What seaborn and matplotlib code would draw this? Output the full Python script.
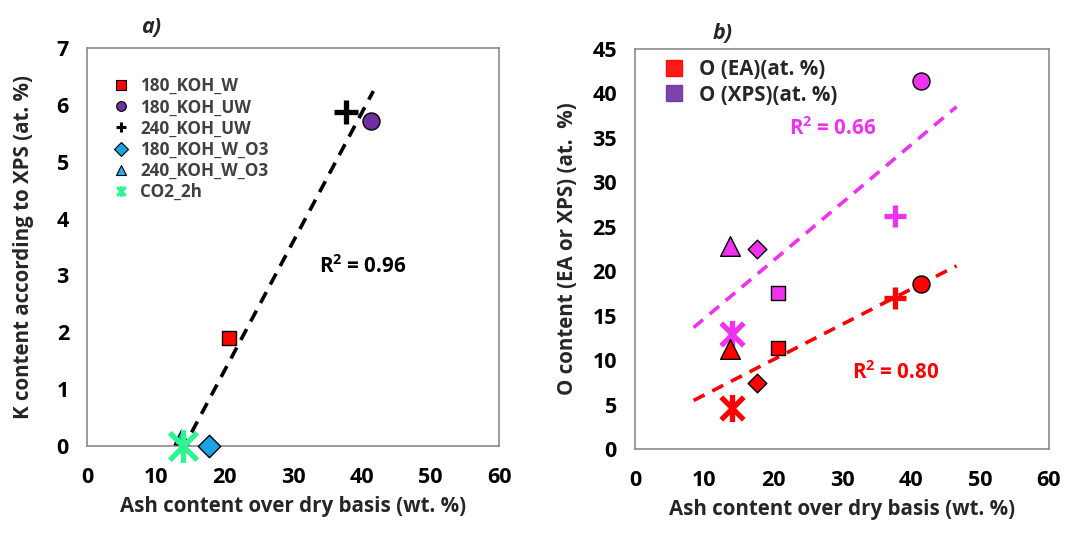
import numpy as np
import matplotlib
matplotlib.use("Agg")
import matplotlib.pyplot as plt
from matplotlib.path import Path
from matplotlib.lines import Line2D
import seaborn as sns

# ---------------- data ----------------
samples = ["180_KOH_W", "180_KOH_UW", "240_KOH_UW", "180_KOH_W_O3", "240_KOH_W_O3", "CO2_2h"]
ash = [20.7, 41.4, 37.7, 17.7, 13.7, 14.0]
k_xps = [1.9, 5.72, 5.87, 0.0, 0.15, 0.0]
o_ea = [11.4, 18.6, 17.0, 7.4, 11.2, 4.6]
o_xps = [17.6, 41.4, 26.2, 22.5, 22.8, 12.9]
r2_labels = ["R$^\\mathbf{2}$ = 0.96", "R$^\\mathbf{2}$ = 0.80", "R$^\\mathbf{2}$ = 0.66"]
fit_range_a = [13.8, 41.7]
fit_range_b = [8.5, 46.6]
x_ticks = [0, 10, 20, 30, 40, 50, 60]
ya_ticks = [0, 1, 2, 3, 4, 5, 6, 7]
yb_ticks = [0, 5, 10, 15, 20, 25, 30, 35, 40, 45]

# ---------------- style ----------------
sns.set_theme(style="white")
plt.rcParams['font.family'] = ['Open Sans', 'DejaVu Sans']
plt.rcParams['font.weight'] = 'bold'
plt.rcParams['mathtext.fontset'] = 'custom'
plt.rcParams['mathtext.rm'] = 'Open Sans:bold'
plt.rcParams['mathtext.bf'] = 'Open Sans:bold'
plt.rcParams['mathtext.default'] = 'bf'

asterisk = Path([(-1, -1), (1, 1), (-1, 1), (1, -1), (0, -1.2), (0, 1.2)],
                [Path.MOVETO, Path.LINETO, Path.MOVETO, Path.LINETO, Path.MOVETO, Path.LINETO])

markers = ["s", "o", "+", "D", "^", asterisk]
colors_a = ["#FF0000", "#7030A0", "#000000", "#1BA3E3", "#1BB0EE", "#2EF58F"]
sizes_a = [110, 150, 300, 130, 110, 560]
col_ea = "#FF0000"
col_xps = "#F032F0"
sizes_b = [110, 150, 260, 90, 200, 380]

fig = plt.figure(figsize=(10.86, 5.43), dpi=100)
axA = fig.add_axes([0.0801, 0.1786, 0.3794, 0.733])
axB = fig.add_axes([0.5847, 0.1731, 0.3812, 0.7367])

spine_col = "#8A8A8A"
FS = 14.8
TFS = 15.5


def style_axes(ax, yticks, ylim):
    ax.set_xlim(0, 60)
    ax.set_ylim(ylim)
    ax.set_xticks(x_ticks)
    ax.set_yticks(yticks)
    for s in ax.spines.values():
        s.set_color(spine_col)
        s.set_linewidth(1.2)
        s.set_zorder(2)
    ax.tick_params(axis='both', which='both', direction='out', length=5, width=1.2,
                   color=spine_col, labelsize=TFS, labelcolor='black')
    ax.tick_params(axis='x', pad=10)
    ax.tick_params(axis='y', pad=8)
    for lab in ax.get_xticklabels() + ax.get_yticklabels():
        lab.set_fontweight('bold')


def draw_points(ax, xs, ys, cols, sizes):
    for i in range(len(xs)):
        m = markers[i]
        if m == "+" or m is asterisk:
            sns.scatterplot(x=[xs[i]], y=[ys[i]], marker=m, s=sizes[i], color=cols[i],
                            edgecolor=cols[i], linewidth=3.8, ax=ax, zorder=4, clip_on=False)
        else:
            sns.scatterplot(x=[xs[i]], y=[ys[i]], marker=m, s=sizes[i], color=cols[i],
                            edgecolor="black", linewidth=1.0, ax=ax, zorder=4, clip_on=False)


def trend(ax, xs, ys, rng, color):
    p = np.polyfit(xs, ys, 1)
    xx = np.array(rng)
    sns.lineplot(x=xx, y=np.polyval(p, xx), color=color, linewidth=2.6,
                 dashes=False, ax=ax, zorder=3).lines[-1].set_dashes((3.4, 2.4))


# ---------------- panel a ----------------
trend(axA, ash, k_xps, fit_range_a, "black")
draw_points(axA, ash, k_xps, colors_a, sizes_a)
style_axes(axA, ya_ticks, (0, 7))
axA.set_xlabel("Ash content over dry basis (wt. %)", fontsize=FS, fontweight='bold', labelpad=6)
axA.set_ylabel("K content according to XPS (at. %)", fontsize=FS, fontweight='bold', labelpad=16)
axA.text(33.8, 3.15, r2_labels[0], fontsize=FS, fontweight='bold', color='black', va='center')
axA.text(7.8, 7.17, "a)", fontsize=15.5, fontweight='bold', style='italic', va='bottom')

handles_a = []
for i in range(len(samples)):
    m = markers[i]
    if m == "+" or m is asterisk:
        h = Line2D([], [], linestyle='none', marker=m, markersize=7.5, color=colors_a[i],
                   markeredgecolor=colors_a[i], markeredgewidth=2.2)
    else:
        h = Line2D([], [], linestyle='none', marker=m, markersize=7, color=colors_a[i],
                   markeredgecolor='black', markeredgewidth=0.8)
    handles_a.append(h)
legA = axA.legend(handles_a, samples, loc='upper left', bbox_to_anchor=(0.025, 0.965),
                  frameon=False, fontsize=12.3, handletextpad=0.6, labelspacing=0.18,
                  handlelength=1.0)
for t in legA.get_texts():
    t.set_color('#404040')
    t.set_fontweight('bold')

# ---------------- panel b ----------------
trend(axB, ash, o_xps, fit_range_b, col_xps)
trend(axB, ash, o_ea, fit_range_b, col_ea)
draw_points(axB, ash, o_xps, [col_xps] * 6, sizes_b)
draw_points(axB, ash, o_ea, [col_ea] * 6, sizes_b)
style_axes(axB, yb_ticks, (0, 45))
axB.set_xlabel("Ash content over dry basis (wt. %)", fontsize=FS, fontweight='bold', labelpad=6)
axB.set_ylabel("O content (EA or XPS) (at.  %)", fontsize=FS, fontweight='bold', labelpad=10)
axB.text(31.5, 8.6, r2_labels[1], fontsize=FS, fontweight='bold', color=col_ea, va='center')
axB.text(22.3, 36.1, r2_labels[2], fontsize=FS, fontweight='bold', color=col_xps, va='center')
axB.text(11.3, 45.6, "b)", fontsize=15.5, fontweight='bold', style='italic', va='bottom')

handles_b = [Line2D([], [], linestyle='none', marker='s', markersize=12, color="#FF0000",
                    markeredgecolor="#FF0000", alpha=0.9),
             Line2D([], [], linestyle='none', marker='s', markersize=12, color="#7030A0",
                    markeredgecolor="#7030A0", alpha=0.9)]
legB = axB.legend(handles_b, ["O (EA)(at. %)", "O (XPS)(at. %)"], loc='upper left',
                  bbox_to_anchor=(0.02, 1.02), frameon=False, fontsize=FS,
                  handletextpad=0.6, labelspacing=0.2, handlelength=1.2)
for t in legB.get_texts():
    t.set_fontweight('bold')

fig.savefig("out.png", dpi=100)
